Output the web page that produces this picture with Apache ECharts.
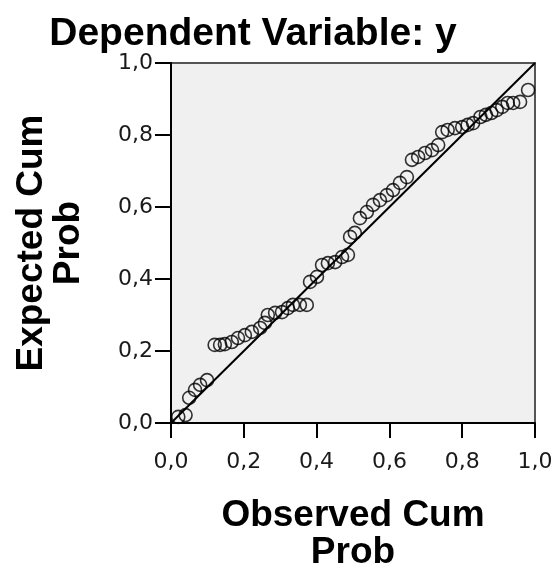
<!DOCTYPE html>
<html>
<head>
<meta charset="utf-8">
<script src="https://cdn.jsdelivr.net/npm/echarts@6/dist/echarts.min.js"></script>
<style>html,body{margin:0;padding:0;background:#fff;}#c{width:555px;height:570px;}</style>
</head>
<body>
<div id="c"></div>
<script>
var title = "Dependent Variable: y";
var xName = "Observed Cum\nProb";
var yName = "Expected Cum\nProb";
var observed = [0.02,0.04,0.05,0.066,0.08,0.099,0.12,0.135,0.148,0.167,0.184,0.203,0.222,0.245,0.258,
  0.266,0.286,0.305,0.321,0.335,0.354,0.373,0.382,0.401,0.415,0.431,0.451,0.47,0.486,0.492,0.505,
  0.519,0.538,0.555,0.574,0.593,0.61,0.629,0.648,0.662,0.679,0.698,0.717,0.734,
  0.745,0.76,0.78,0.80,0.815,0.83,0.85,0.865,0.88,0.895,0.91,0.925,0.94,0.959,0.981];
var expected = [0.017,0.022,0.07,0.092,0.106,0.119,0.217,0.217,0.219,0.225,0.236,0.244,0.253,0.264,0.278,
  0.30,0.306,0.308,0.319,0.328,0.328,0.328,0.392,0.406,0.439,0.444,0.447,0.461,0.467,0.517,0.528,
  0.569,0.586,0.606,0.619,0.633,0.647,0.667,0.683,0.731,0.739,0.75,0.758,0.772,
  0.808,0.814,0.819,0.822,0.828,0.833,0.85,0.856,0.861,0.869,0.878,0.889,0.889,0.892,0.925];
var refLine = [[0,0],[1,1]];

var pts = observed.map(function(v,i){return [v, expected[i]];});
var fmt = function(v){return v.toFixed(1).replace('.', ',');};
var font = 'Liberation Sans, Arial, sans-serif';
var tickFont = 'DejaVu Sans, sans-serif';
var chart = echarts.init(document.getElementById('c'), null, {renderer:'canvas'});
chart.setOption({
  animation:false,
  backgroundColor:'#ffffff',
  title:{text:title, left:248, top:10, textAlign:'center',
    textStyle:{fontFamily:font, fontWeight:'bold', fontSize:39, color:'#000'}},
  grid:{left:171, right:20, top:63, bottom:147, outerBoundsMode:'none', containLabel:false,
    show:true, backgroundColor:'#f0f0f0', borderColor:'#555', borderWidth:2},
  xAxis:{type:'value', min:0, max:1, interval:0.2,
    name:xName, nameLocation:'middle', nameGap:74,
    nameTextStyle:{fontFamily:font, fontWeight:'bold', fontSize:37, color:'#000', lineHeight:37},
    axisLine:{show:true, lineStyle:{color:'#000', width:2}},
    axisTick:{show:true, inside:false, length:15, lineStyle:{color:'#000', width:2}},
    axisLabel:{formatter:fmt, fontFamily:tickFont, fontSize:22, color:'#1a1a1a', margin:28},
    splitLine:{show:false}},
  yAxis:{type:'value', min:0, max:1, interval:0.2,
    name:yName, nameLocation:'middle', nameGap:84, nameRotate:90,
    nameTextStyle:{fontFamily:font, fontWeight:'bold', fontSize:37, color:'#000', lineHeight:37},
    axisLine:{show:true, lineStyle:{color:'#000', width:2}},
    axisTick:{show:true, inside:false, length:16, lineStyle:{color:'#000', width:2}},
    axisLabel:{formatter:fmt, fontFamily:tickFont, fontSize:22, color:'#1a1a1a', margin:18, padding:[8,0,0,0]},
    splitLine:{show:false}},
  series:[
    {type:'line', data:refLine, symbol:'none', lineStyle:{color:'#000', width:2}, silent:true, z:2},
    {type:'scatter', data:pts, symbol:'circle', symbolSize:13,
      itemStyle:{color:'rgba(0,0,0,0)', borderColor:'#000', borderWidth:1.6}, z:3}
  ]
});
</script>
</body>
</html>
